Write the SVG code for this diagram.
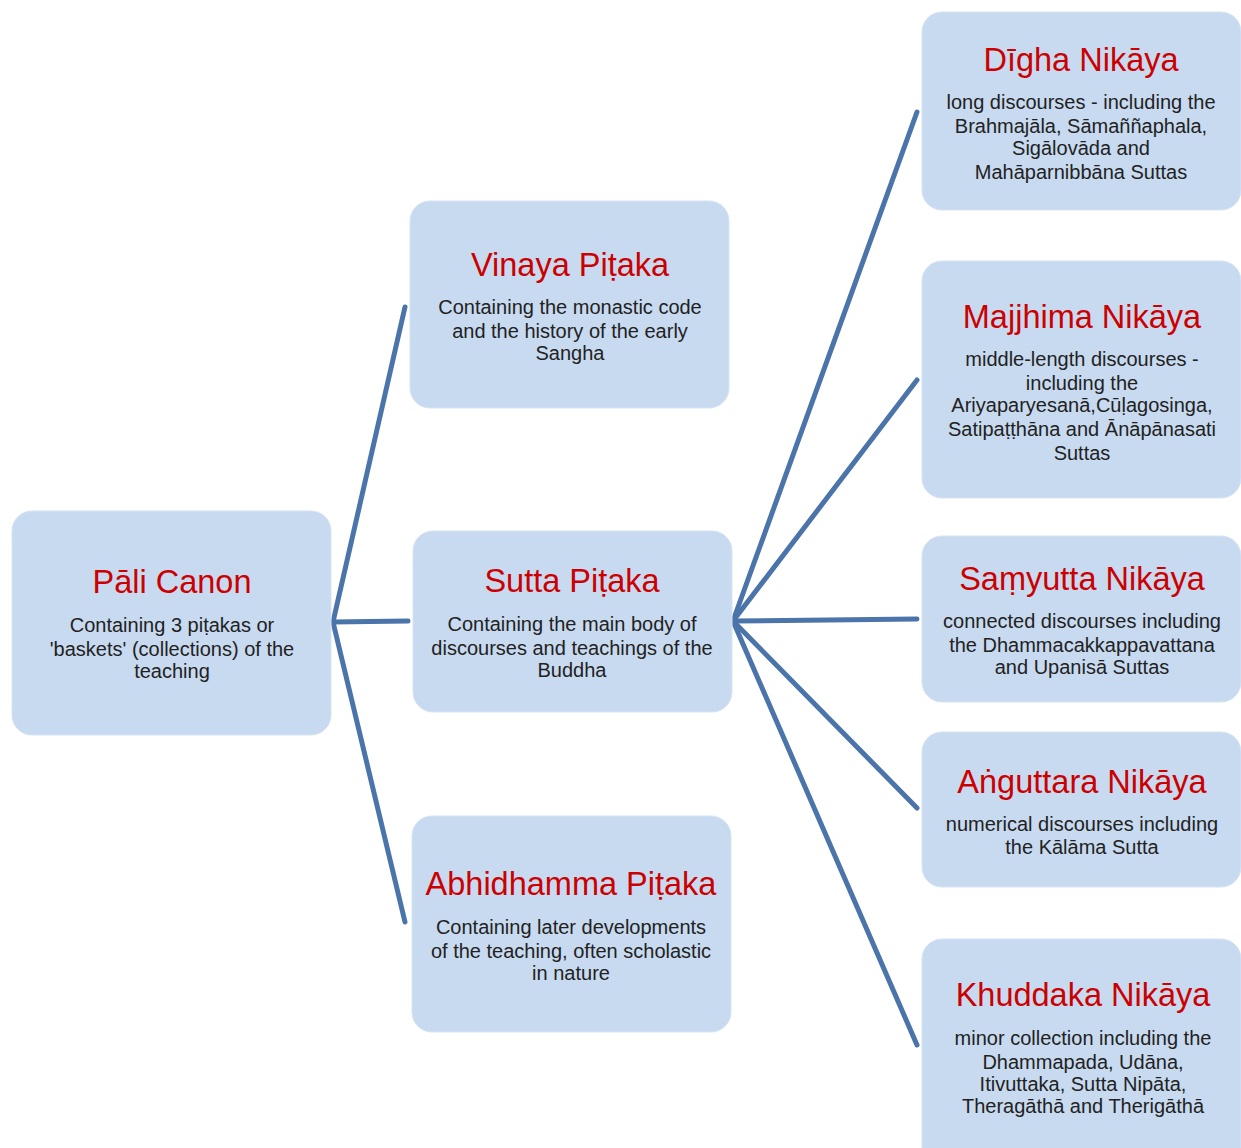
<svg xmlns="http://www.w3.org/2000/svg" width="1241" height="1148" viewBox="0 0 1241 1148">
<style>
.box{fill:#C8DAF0;stroke:#D6E3F4;stroke-width:1}
.t{font-family:"Liberation Sans",Arial,sans-serif;font-size:32.5px;fill:#CC0000;text-anchor:middle}
.d{font-family:"Liberation Sans",Arial,sans-serif;font-size:20px;fill:#222222;text-anchor:middle}
.c{stroke:#4A74AA;stroke-width:5;fill:none;stroke-linecap:round}
</style>
<rect width="1241" height="1148" fill="#ffffff"/>
<g id="connectors">
<line class="c" x1="333" y1="622" x2="405" y2="307"/>
<line class="c" x1="333" y1="622" x2="408" y2="621"/>
<line class="c" x1="333" y1="622" x2="405" y2="922"/>
<line class="c" x1="733" y1="621" x2="917" y2="112"/>
<line class="c" x1="733" y1="621" x2="917" y2="380"/>
<line class="c" x1="733" y1="621" x2="917" y2="619"/>
<line class="c" x1="733" y1="621" x2="917" y2="808"/>
<line class="c" x1="733" y1="621" x2="917" y2="1045"/>
</g>
<g id="pali">
<rect class="box" x="12" y="511" width="319" height="224" rx="20"/>
<text class="t" x="172" y="593">Pāli Canon</text>
<text class="d" x="172" y="632">Containing 3 piṭakas  or</text>
<text class="d" x="172" y="656">'baskets' (collections) of the</text>
<text class="d" x="172" y="678">teaching</text>
</g>
<g id="vinaya">
<rect class="box" x="410" y="201" width="319" height="207" rx="20"/>
<text class="t" x="570" y="276">Vinaya Piṭaka</text>
<text class="d" x="570" y="314">Containing the monastic code</text>
<text class="d" x="570" y="338">and the history of the early</text>
<text class="d" x="570" y="360">Sangha</text>
</g>
<g id="sutta">
<rect class="box" x="413" y="531" width="319" height="181" rx="20"/>
<text class="t" x="572" y="592">Sutta Piṭaka</text>
<text class="d" x="572" y="631">Containing the main body of</text>
<text class="d" x="572" y="655">discourses and teachings of the</text>
<text class="d" x="572" y="677">Buddha</text>
</g>
<g id="abhidhamma">
<rect class="box" x="412" y="816" width="319" height="216" rx="20"/>
<text class="t" x="571" y="895">Abhidhamma Piṭaka</text>
<text class="d" x="571" y="934">Containing later developments</text>
<text class="d" x="571" y="958">of the teaching, often scholastic</text>
<text class="d" x="571" y="980">in nature</text>
</g>
<g id="digha">
<rect class="box" x="922" y="12" width="319" height="198" rx="20"/>
<text class="t" x="1081" y="71">Dīgha Nikāya</text>
<text class="d" x="1081" y="109">long discourses - including the</text>
<text class="d" x="1081" y="133">Brahmajāla, Sāmaññaphala,</text>
<text class="d" x="1081" y="155">Sigālovāda and</text>
<text class="d" x="1081" y="179">Mahāparnibbāna Suttas</text>
</g>
<g id="majjhima">
<rect class="box" x="922" y="261" width="319" height="237" rx="20"/>
<text class="t" x="1082" y="328">Majjhima Nikāya</text>
<text class="d" x="1082" y="366">middle-length discourses -</text>
<text class="d" x="1082" y="390">including the</text>
<text class="d" x="1082" y="412">Ariyaparyesanā,Cūḷagosinga,</text>
<text class="d" x="1082" y="436">Satipaṭṭhāna and Ānāpānasati</text>
<text class="d" x="1082" y="460">Suttas</text>
</g>
<g id="samyutta">
<rect class="box" x="922" y="536" width="319" height="166" rx="20"/>
<text class="t" x="1082" y="590">Saṃyutta Nikāya</text>
<text class="d" x="1082" y="628">connected discourses including</text>
<text class="d" x="1082" y="652">the Dhammacakkappavattana</text>
<text class="d" x="1082" y="674">and Upanisā Suttas</text>
</g>
<g id="anguttara">
<rect class="box" x="922" y="732" width="319" height="155" rx="20"/>
<text class="t" x="1082" y="793">Aṅguttara Nikāya</text>
<text class="d" x="1082" y="831">numerical discourses including</text>
<text class="d" x="1082" y="854">the Kālāma Sutta</text>
</g>
<g id="khuddaka">
<rect class="box" x="922" y="939" width="319" height="230" rx="20"/>
<text class="t" x="1083" y="1006">Khuddaka Nikāya</text>
<text class="d" x="1083" y="1045">minor collection including the</text>
<text class="d" x="1083" y="1069">Dhammapada, Udāna,</text>
<text class="d" x="1083" y="1091">Itivuttaka, Sutta Nipāta,</text>
<text class="d" x="1083" y="1113">Theragāthā and Therigāthā</text>
</g>
</svg>
